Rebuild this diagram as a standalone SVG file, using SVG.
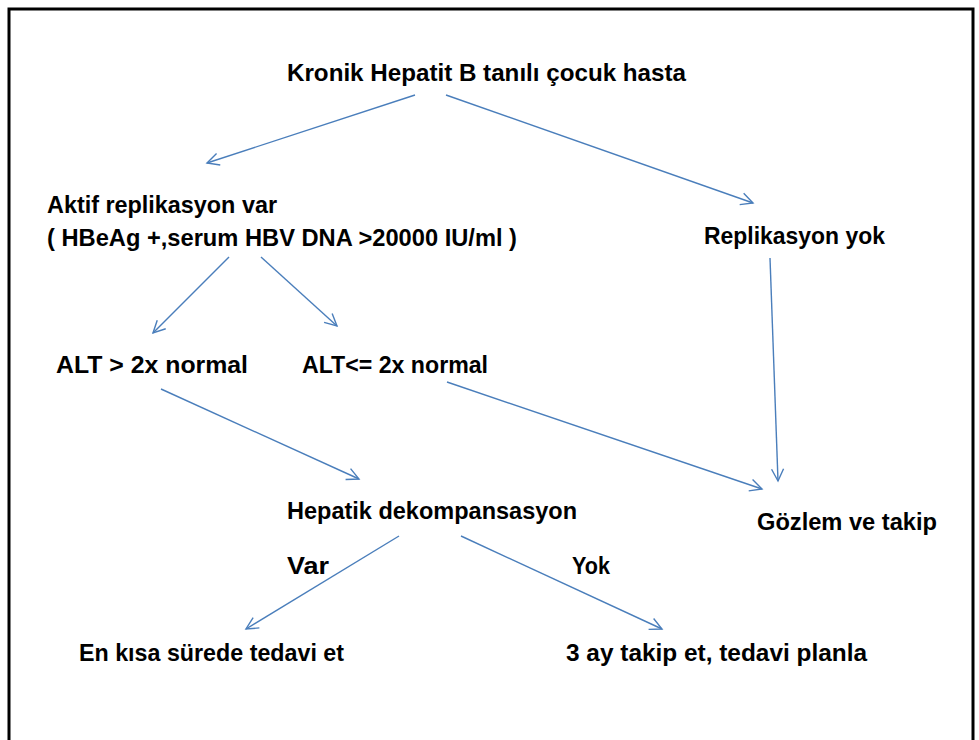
<svg xmlns="http://www.w3.org/2000/svg" width="979" height="740" viewBox="0 0 979 740">
<style>
text{font-family:"Liberation Sans",Arial,sans-serif;font-weight:bold;font-size:24px;fill:#000}
.c line{stroke:#4A7EBB;stroke-width:1.4;fill:none;marker-end:url(#ah)}
</style>
<defs>
<marker id="ah" markerUnits="userSpaceOnUse" markerWidth="16" markerHeight="16" viewBox="0 0 16 16" refX="14" refY="8" orient="auto">
<path d="M2,2 L14,8 L2,14" fill="none" stroke="#4A7EBB" stroke-width="1.4"/>
</marker>
</defs>
<rect x="9" y="9" width="964" height="745" fill="#fff" stroke="#000" stroke-width="3"/>
<g class="c" id="connectors">
<line x1="415" y1="95" x2="207" y2="163"/>
<line x1="446" y1="95" x2="753" y2="203"/>
<line x1="229" y1="257" x2="153" y2="333"/>
<line x1="261" y1="257" x2="337" y2="326"/>
<line x1="770" y1="258" x2="778" y2="481"/>
<line x1="161" y1="389" x2="359" y2="479"/>
<line x1="447" y1="382" x2="762" y2="489"/>
<line x1="399" y1="536" x2="246" y2="629"/>
<line x1="461" y1="536" x2="662" y2="629"/>
</g>
<g id="n1"><text x="287" y="81" textLength="399" lengthAdjust="spacingAndGlyphs">Kronik Hepatit B tanılı çocuk hasta</text></g>
<g id="n2"><text x="47" y="213" textLength="230" lengthAdjust="spacingAndGlyphs">Aktif replikasyon var</text><text x="47" y="246" textLength="470" lengthAdjust="spacingAndGlyphs">( HBeAg +,serum HBV DNA &gt;20000 IU/ml )</text></g>
<g id="n3"><text x="704" y="244" textLength="181" lengthAdjust="spacingAndGlyphs">Replikasyon yok</text></g>
<g id="n4"><text x="56" y="373" textLength="192" lengthAdjust="spacingAndGlyphs">ALT &gt; 2x normal</text></g>
<g id="n5"><text x="302" y="373" textLength="186" lengthAdjust="spacingAndGlyphs">ALT&lt;= 2x normal</text></g>
<g id="n6"><text x="287" y="519" textLength="290" lengthAdjust="spacingAndGlyphs">Hepatik dekompansasyon</text></g>
<g id="n7"><text x="757" y="530" textLength="180" lengthAdjust="spacingAndGlyphs">Gözlem ve takip</text></g>
<g id="l1"><text x="287" y="574" textLength="42" lengthAdjust="spacingAndGlyphs">Var</text></g>
<g id="l2"><text x="572" y="574" textLength="38" lengthAdjust="spacingAndGlyphs">Yok</text></g>
<g id="n8"><text x="79" y="661" textLength="265" lengthAdjust="spacingAndGlyphs">En kısa sürede tedavi et</text></g>
<g id="n9"><text x="566" y="661" textLength="301" lengthAdjust="spacingAndGlyphs">3 ay takip et, tedavi planla</text></g>
</svg>
